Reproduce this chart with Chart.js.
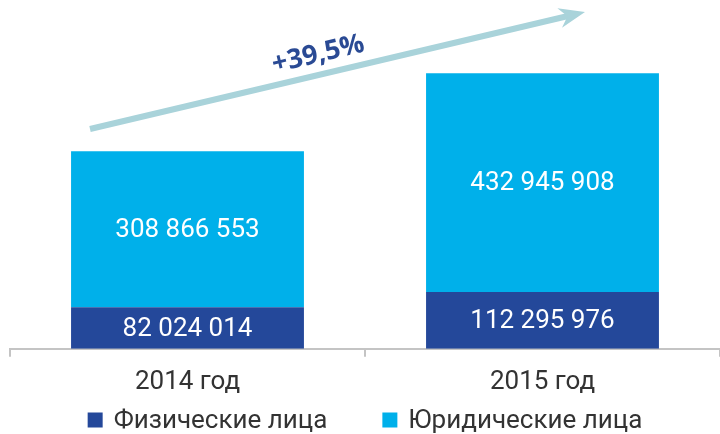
<!DOCTYPE html>
<html><head><meta charset="utf-8">
<script src="https://cdn.jsdelivr.net/npm/chart.js@4/dist/chart.umd.min.js"></script>
<style>html,body{margin:0;padding:0;background:#fff}#w{width:720px;height:434px}</style>
</head><body><div id="w"><canvas id="c" width="720" height="434"></canvas></div>
<script>
const categories = ['2014 год', '2015 год'];
const individuals = [82024014, 112295976];
const legalEntities = [308866553, 432945908];
const seriesNames = ['Физические лица', 'Юридические лица'];
const growthLabel = '+39,5%';

const DARK = '#24489a', LIGHT = '#00b0ea';
const fmt = v => String(v).replace(/\B(?=(\d{3})+(?!\d))/g, ' ');

const labelsPlugin = {
  id: 'vals',
  afterDatasetsDraw(chart) {
    const ctx = chart.ctx;
    ctx.save();
    ctx.fillStyle = '#fff';
    ctx.font = '26px Roboto';
    ctx.textAlign = 'center';
    ctx.textBaseline = 'middle';
    chart.data.datasets.forEach((ds, di) => {
      chart.getDatasetMeta(di).data.forEach((el, i) => {
        const y = (el.y + el.base) / 2;
        ctx.fillText(fmt(ds.data[i]), el.x, y + 1);
      });
    });
    // growth arrow
    const a = chart.chartArea;
    const x0 = a.left + 80, y0 = 129, x1 = a.left + 575, y1 = 12;
    ctx.strokeStyle = '#a9d3da';
    ctx.fillStyle = '#a9d3da';
    ctx.lineWidth = 6;
    ctx.lineCap = 'butt';
    const ang = Math.atan2(y1 - y0, x1 - x0);
    ctx.beginPath();
    ctx.moveTo(x0, y0);
    ctx.lineTo(x1 - 12 * Math.cos(ang), y1 - 12 * Math.sin(ang));
    ctx.stroke();
    ctx.save();
    ctx.translate(x1, y1);
    ctx.rotate(ang);
    ctx.beginPath();
    ctx.moveTo(0, 0);
    ctx.lineTo(-26, -10);
    ctx.lineTo(-18, 0);
    ctx.lineTo(-26, 10);
    ctx.closePath();
    ctx.fill();
    ctx.restore();
    ctx.save();
    ctx.translate(320, 62);
    ctx.rotate(ang);
    ctx.fillStyle = '#2a4a94';
    ctx.font = 'bold 27px "Open Sans"';
    ctx.textAlign = 'center';
    ctx.textBaseline = 'alphabetic';
    ctx.fillText(growthLabel, 0, 0);
    ctx.restore();

    // legend
    ctx.font = '26px Roboto';
    ctx.textBaseline = 'middle';
    ctx.textAlign = 'left';
    const box = 15, gap = 11, itemGap = 55;
    const ws = chart.data.datasets.map(d => ctx.measureText(d.label).width);
    const total = ws.reduce((s, w) => s + box + gap + w, 0) + itemGap * (ws.length - 1);
    let x = (a.left + a.right) / 2 - total / 2;
    const yc = 420;
    chart.data.datasets.forEach((d, i) => {
      ctx.fillStyle = d.backgroundColor;
      ctx.fillRect(x, yc - box / 2, box, box);
      ctx.fillStyle = '#333';
      ctx.fillText(d.label, x + box + gap, yc + 1);
      x += box + gap + ws[i] + itemGap;
    });
    ctx.restore();
  }
};

new Chart(document.getElementById('c'), {
  type: 'bar',
  data: {
    labels: categories,
    datasets: [
      { label: seriesNames[0], data: individuals, backgroundColor: DARK, borderWidth: 0 },
      { label: seriesNames[1], data: legalEntities, backgroundColor: LIGHT, borderWidth: 0 }
    ]
  },
  options: {
    responsive: false,
    animation: false,
    events: [],
    layout: { padding: { left: 10, right: 0, top: 0, bottom: 26 } },
    datasets: { bar: { categoryPercentage: 1, barPercentage: 0.656 } },
    scales: {
      x: {
        stacked: true,
        border: { display: true, color: '#c4c4c4', width: 2 },
        grid: { display: true, drawOnChartArea: false, drawTicks: true, tickLength: 8, offset: true, color: '#c4c4c4', lineWidth: 2 },
        ticks: { color: '#333', font: { family: 'Roboto', size: 26 }, padding: 10 }
      },
      y: { stacked: true, display: false, min: 0, max: 690000000 }
    },
    plugins: {
      legend: { display: false },
      tooltip: { enabled: false }
    }
  },
  plugins: [labelsPlugin]
});
</script></body></html>
